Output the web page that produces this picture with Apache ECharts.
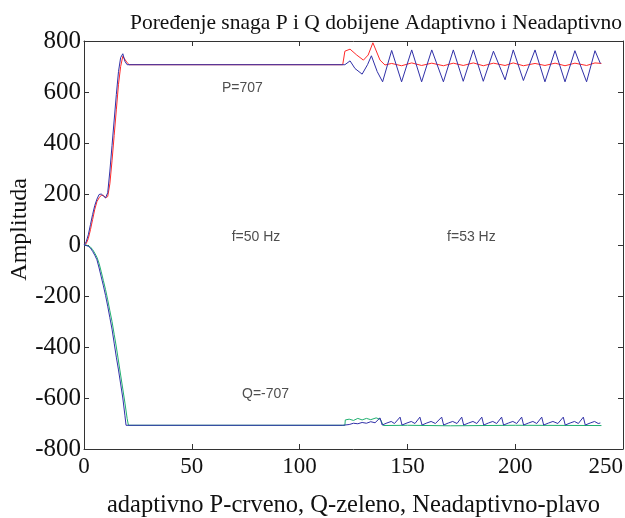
<!DOCTYPE html>
<html>
<head>
<meta charset="utf-8">
<script src="https://cdn.jsdelivr.net/npm/echarts@6/dist/echarts.min.js"></script>
<style>html,body{margin:0;padding:0;background:#fff;}#c{width:625px;height:518px;}</style>
</head>
<body>
<div id="c"></div>
<script>
const titleText = 'Poređenje snaga P i Q dobijene Adaptivno i Neadaptivno';
const xAxisName = 'adaptivno P-crveno, Q-zeleno, Neadaptivno-plavo';
const yAxisName = 'Amplituda';
const xTicks = [0, 50, 100, 150, 200, 250];
const yTicks = [-800, -600, -400, -200, 0, 200, 400, 600, 800];

// Adaptive P (red)
const pAdaptive = [[0,0],[1,5],[2,25],[3,60],[4,100],[5,140],[6,170],[7,185],[8,195],[9,195],[10,185],[11,190],[12,240],[13,330],[14,430],[15,530],[16,630],[17,700],[18,740],[18.8,746],[20,715],[21,707],
  [120,707],[121,760],[123.4,768],[126.5,745],[129.6,725],[131.8,745],[134,793],[137.3,725],[139.6,706],
  [142.7,712],[147.3,703],[152,714],[156.6,704],[161.3,713],[166.7,703],[171.3,713],[175.9,704],[180.6,714],[185.2,703],[189.9,713],[195.3,704],[199.1,714],[203.8,703],[209.2,712],[213.8,704],[218.5,713],[223.1,703],[227.7,713],[233.1,704],[237,714],[240,712]];

// Adaptive Q (green)
const qAdaptive = [[0,0],[1,0],[2,-3],[3,-8],[4,-18],[5,-32],[6,-48],[7,-72],[8,-105],[9,-140],[10,-175],[11,-215],[12,-258],[13,-300],[14,-350],[15,-400],[16,-455],[17,-510],[18,-565],[19,-620],[20,-680],[20.6,-707],
  [121,-707],[121.2,-686],[123,-683],[125,-688],[127,-680],[129,-686],[131,-680],[133,-685],[135.5,-678],[137.5,-684],[138.8,-708],[150,-707],[170,-709],[200,-707],[240,-708]];

// Non-adaptive P (blue)
const pNonAdaptive = [[0,0],[1,12],[2,40],[3,80],[4,120],[5,155],[6,180],[7,198],[8,200],[9,192],[10,185],[11,205],[12,290],[13,390],[14,490],[15,590],[16,680],[17,735],[18,750],[19,720],[20,707],
  [121,707],[123.4,722],[125.7,692],[129,670],[131.5,707],[133.3,742],[136,680],[138.5,640],[142.7,763],[147.3,640],[152,765],[156.6,640],[161.3,765],[166.7,640],[171.3,765],[175.9,642],[180.6,765],[185.2,642],[189.9,760],[195.3,648],[199.1,765],[203.8,645],[209.2,765],[213.8,640],[218.5,762],[223.1,640],[227.7,762],[233.1,640],[237,762],[239.5,712]];

// Non-adaptive Q (blue)
const qNonAdaptive = [[0,0],[1,-2],[2,-5],[3,-12],[4,-25],[5,-40],[6,-58],[7,-90],[8,-125],[9,-160],[10,-198],[11,-240],[12,-285],[13,-330],[14,-385],[15,-440],[16,-490],[17,-545],[18,-600],[19,-670],[19.5,-707],
  [120,-707],[123,-704],[125,-699],[127,-701],[129,-696],[131,-699],[133,-693],[135,-697],[137.3,-678],[138.3,-706],[140.5,-698],[142.5,-692],[144,-700],[146.6,-675],[147.5,-706],[149.8,-698],[151.8,-692],[153.5,-700],[155.8,-675],[156.8,-706],[159,-698],[161,-692],[163,-700],[165.9,-675],[166.8,-706],[169,-698],[171,-692],[173,-700],[175.2,-675],[176.1,-706],[178.4,-698],[180.4,-692],[182.2,-700],[184.5,-675],[185.4,-706],[187.6,-698],[189.6,-692],[191.4,-700],[193.7,-675],[194.6,-706],[196.9,-698],[198.9,-692],[200.7,-700],[203,-675],[203.9,-706],[206.2,-698],[208.2,-692],[210,-700],[212.3,-675],[213.2,-706],[215.5,-698],[217.5,-692],[219.8,-700],[222.3,-675],[223.2,-706],[225.5,-698],[227.5,-692],[229.3,-700],[231.6,-675],[232.5,-706],[234.8,-698],[236.8,-692],[238.5,-700],[239.5,-698]];

// Text annotations [x, y, text]
const notes = [[64,616,'P=707'],[68.5,31,'f=50 Hz'],[168.4,31,'f=53 Hz'],[73.3,-584,'Q=-707']];

const serif = 'Liberation Serif';
const chart = echarts.init(document.getElementById('c'), null, {renderer:'canvas'});
const axisLineStyle = {color:'#333', width:1};
function lineSeries(data, color, z){
  return {type:'line', data:data, symbol:'none', z:z, lineStyle:{color:color, width:1}, animation:false};
}
chart.setOption({
  animation:false,
  backgroundColor:'#fff',
  title:{text:titleText, left:371, textAlign:'center', top:7, textStyle:{fontFamily:serif, fontWeight:'normal', fontSize:21.5, color:'#111'}},
  grid:{left:84, right:2, top:41, bottom:69, containLabel:false, outerBoundsMode:'none'},
  xAxis:[
    {type:'value', min:xTicks[0], max:xTicks[xTicks.length-1], interval:50, position:'bottom',
     name:xAxisName, nameLocation:'middle', nameGap:44, nameTextStyle:{fontFamily:serif, fontSize:24.5, color:'#111'},
     axisLine:{onZero:false, lineStyle:axisLineStyle}, axisTick:{inside:true, length:5, lineStyle:axisLineStyle},
     axisLabel:{fontFamily:serif, fontSize:23, color:'#111', margin:6, alignMaxLabel:'right'},
     splitLine:{show:false}},
    {type:'value', min:xTicks[0], max:xTicks[xTicks.length-1], interval:50, position:'top',
     axisLine:{onZero:false, lineStyle:axisLineStyle}, axisTick:{inside:true, length:5, lineStyle:axisLineStyle},
     axisLabel:{show:false}, splitLine:{show:false}}
  ],
  yAxis:[
    {type:'value', min:yTicks[0], max:yTicks[yTicks.length-1], interval:200, position:'left',
     axisLine:{onZero:false, lineStyle:axisLineStyle}, axisTick:{inside:true, length:5, lineStyle:axisLineStyle},
     axisLabel:{fontFamily:serif, fontSize:25, color:'#111', margin:3},
     splitLine:{show:false}},
    {type:'value', min:yTicks[0], max:yTicks[yTicks.length-1], interval:200, position:'right',
     axisLine:{onZero:false, lineStyle:axisLineStyle}, axisTick:{inside:true, length:5, lineStyle:axisLineStyle},
     axisLabel:{show:false}, splitLine:{show:false}}
  ],
  graphic:[{type:'text', left:8, top:178, rotation:Math.PI/2, originX:0, originY:0,
    style:{text:yAxisName, font:'24px "Liberation Serif"', fill:'#111'}}],
  series:[
    lineSeries(pAdaptive, '#ff2a2a', 2),
    lineSeries(qAdaptive, '#20b070', 2),
    lineSeries(pNonAdaptive, '#3030a8', 3),
    lineSeries(qNonAdaptive, '#3030a8', 3),
    {type:'scatter', data:notes, symbolSize:0, z:5, animation:false,
     label:{show:true, position:'right', distance:0, formatter:p=>p.data[2], fontFamily:'Liberation Sans', fontSize:14, color:'#222'}}
  ]
});
</script>
</body>
</html>
